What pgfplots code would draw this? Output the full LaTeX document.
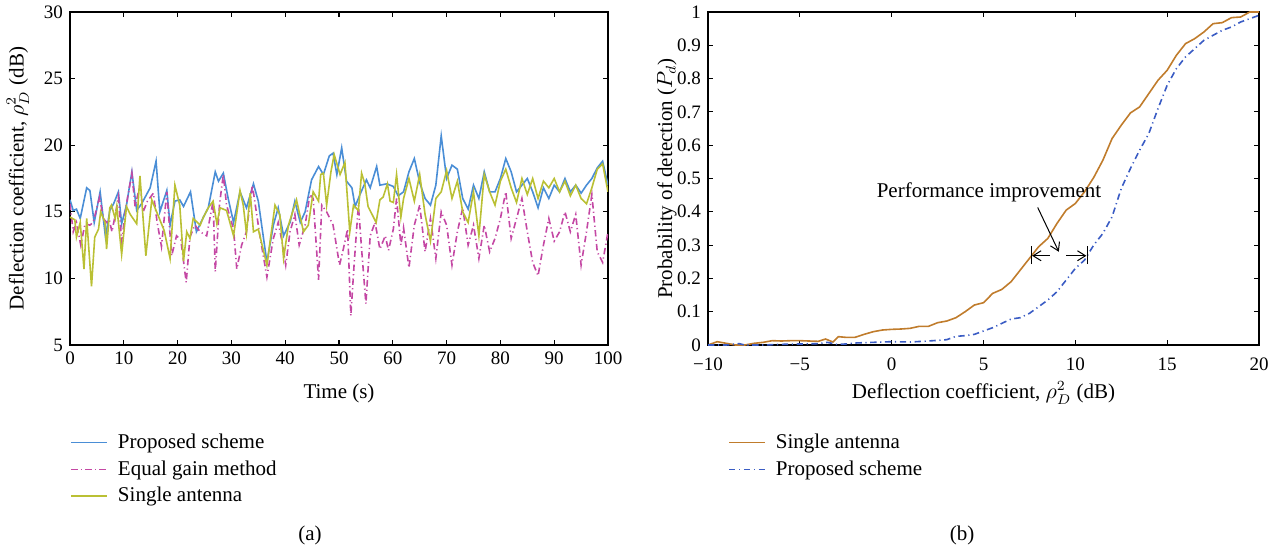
\documentclass[border=0pt]{standalone}
\usepackage{pgfplots}
\pgfplotsset{compat=1.18}
\usepackage{fontspec}
\setmainfont{Liberation Serif}
\usetikzlibrary{arrows.meta}
\definecolor{cProp}{RGB}{74,142,214}
\definecolor{cEqual}{RGB}{196,72,164}
\definecolor{cSingle}{RGB}{186,192,52}
\definecolor{cSingleB}{RGB}{192,124,44}
\definecolor{cPropB}{RGB}{58,92,196}
\begin{document}
\begin{tikzpicture}
\path[use as bounding box] (0,0) rectangle (644pt,276pt);
\pgfplotsset{
  every axis/.append style={
    scale only axis, anchor=south west,
    tick align=inside, major tick length=2.5pt,
    axis line style={line width=0.9pt},
    every tick/.style={black, line width=0.6pt},
    label style={font=\fontsize{10.5}{12.5}\selectfont},
    tick label style={font=\fontsize{9.5}{11}\selectfont},
    /pgf/number format/assume math mode=true,
    legend cell align=left,
    legend image code/.code={\draw[#1] (0pt,0pt) -- (18pt,0pt); \path (21.5pt,0pt);},
    legend style={draw=none, fill=none, anchor=north west, inner sep=0pt,
      font=\fontsize{10.5}{12.5}\selectfont, row sep=1.6pt,
      nodes={inner sep=1.5pt}},
  }
}
\begin{axis}[
  at={(35pt,103.5pt)}, width=269pt, height=166.5pt,
  xmin=0, xmax=100, ymin=5, ymax=30,
  xtick={0,10,...,100}, ytick={5,10,...,30},
  xlabel={Time (s)},
  ylabel={Deflection coefficient, $\rho_D^2$ (dB)},
  xlabel style={at={(axis description cs:0.5,-0.144)}, anchor=center},
  ylabel style={at={(axis description cs:-0.097,0.5)}, anchor=center},
  legend style={at={(axis description cs:0.0,-0.2565)}},
]
\addplot[cProp, line width=0.8pt] coordinates {
(0,15.9)(0.6,15.1)(1.2,15.2)(1.9,14.5)(3.1,16.8)(3.7,16.6)(4.5,14.2)(5.6,16.5)(6.6,13.1)(7.4,15.1)(8.1,15.6)(9.0,16.5)(9.6,14.1)(10.5,15.5)(11.5,18.0)(12.4,15.1)(13.3,15.6)(14.9,16.8)(16.0,18.8)(16.7,15.0)(18.0,16.6)(18.6,14.0)(19.5,15.8)(20.4,15.9)(21.1,15.4)(22.4,16.5)(23.5,13.5)(24.8,14.6)(25.7,15.3)(27.0,18.0)(27.6,17.3)(28.5,17.9)(29.4,16.0)(30.4,14.2)(31.6,16.5)(32.8,15.3)(34.1,17.1)(35.0,15.8)(36.6,11.2)(37.8,14.0)(38.7,15.3)(39.7,13.2)(40.9,14.2)(41.8,15.8)(42.8,14.2)(43.7,15.0)(44.9,17.4)(46.2,18.4)(47.1,17.8)(48.2,19.2)(48.9,19.4)(49.6,17.8)(50.5,19.8)(51.4,17.3)(52.4,16.8)(53.0,15.4)(53.9,16.3)(55.1,17.4)(55.8,16.8)(57.0,18.4)(57.6,17.0)(58.9,17.1)(60.1,16.9)
(61,16.2)(62,16.5)(63,18.0)(64,19.0)(65,17.2)(66,16.0)(67,15.5)(68,17.0)(69,20.7)(70,17.5)(71,18.5)(72,18.2)(73,16.0)(74,15.2)(75,17.0)(76,16.0)(77,18.0)(78,16.5)(79,16.5)(80,17.5)(81,19.0)(82,18.0)(83,16.5)(84,17.0)(85,17.5)(86,16.5)(87,15.3)(88,16.8)(89,16.0)(90,17.0)(91,16.5)(92,17.5)(93,16.5)(94,17.0)(95,16.4)(96,17.0)(97,17.5)(98,18.3)(99,18.8)(100,17.0)
};
\addlegendentry{Proposed scheme}
\addplot[cEqual, line width=0.8pt, dash pattern=on 3.2pt off 1.6pt on 0.6pt off 1.6pt] coordinates {
(0,15.6)(0.6,13.5)(1.2,14.2)(2.0,12.5)(2.8,14.1)(3.7,14.0)(4.3,14.2)(5.5,16.1)(6.2,14.5)(6.8,14.2)(7.3,14.4)(7.8,13.5)(8.7,15.4)(9.0,16.1)(9.6,12.8)(10.5,15.6)(11.5,17.9)(12.1,15.4)(13.0,17.0)(13.6,15.0)(14.4,15.8)(15.5,16.4)(16.2,14.2)(17.0,12.4)(18.0,16.5)(18.9,11.7)(19.8,13.2)(20.6,12.9)(21.6,9.7)(22.3,13.1)(23.2,14.0)(24.2,13.5)(25.4,13.2)(26.6,15.8)(27.0,10.5)(27.8,15.6)(28.5,17.8)(29.1,15.5)(30.4,13.7)(31.0,10.7)(31.9,12.5)(32.8,13.5)(33.9,17.0)(34.7,14.8)(35.3,13.2)(36.6,10.1)(37.8,13.0)(38.7,14.2)(39.3,13.0)(40.1,11.0)(40.9,13.5)(41.8,14.8)(42.6,12.5)(43.7,14.0)(44.6,16.3)(45.2,16.0)(46.2,9.9)(46.8,15.5)(47.7,15.0)(48.3,14.5)(48.9,14.0)(50.1,11.0)(50.8,12.2)(51.6,13.7)(52.2,7.2)(52.8,11.0)(53.6,15.5)(54.2,12.2)(55.0,8.1)(55.8,13.2)(56.7,14.2)(57.6,12.2)(58.6,13.2)(59.2,12.1)(60.1,13.7)(60.7,16.0)
(61.5,12.5)(62,13.8)(63,10.8)(64,14.0)(65,15.5)(66,12.0)(67,14.5)(68,11.5)(69,15.0)(70,14.0)(71,11.0)(72,13.5)(73,15.3)(74,12.5)(75,14.0)(76,11.5)(77,14.0)(78,12.0)(79,13.0)(80,14.5)(81,16.5)(82,13.0)(83,14.5)(84,16.0)(85,13.5)(86,11.2)(87,10.2)(88,12.5)(89,14.5)(90,12.8)(91,13.5)(92,15.0)(93,13.5)(94,14.8)(95,11.0)(96,13.5)(97,16.3)(98,12.0)(99,11.2)(100,13.5)
};
\addlegendentry{Equal gain method}
\addplot[cSingle, line width=0.8pt] coordinates {
(0,14.6)(0.9,14.4)(1.2,13.1)(1.9,14.2)(2.6,10.7)(3.1,14.5)(4.0,9.4)(4.6,13.1)(5.3,13.7)(5.7,15.0)(6.5,14.2)(6.8,12.2)(7.4,15.3)(7.7,15.5)(8.4,14.5)(8.7,15.4)(9.6,11.8)(10.5,15.4)(11.2,14.8)(12.4,14.1)(13.0,17.7)(14.1,11.7)(15.2,15.9)(16.1,15.0)(17.5,13.6)(18.6,11.5)(19.5,17.0)(20.4,15.5)(21.1,11.3)(21.7,13.5)(22.3,13.0)(22.9,14.5)(24.2,14.0)(24.8,14.6)(25.7,15.3)(26.6,15.8)(27.3,14.1)(27.9,15.3)(29.1,15.1)(30.4,13.2)(31.6,16.6)(32.2,15.5)(32.8,13.4)(33.5,16.4)(34.1,13.5)(35.0,13.7)(36.6,11.0)(38.1,15.5)(39.0,14.8)(39.7,11.5)(40.6,14.0)(42.1,15.9)(43.4,13.5)(44.3,14.0)(45.2,16.5)(46.2,15.8)(46.6,17.8)(47.1,17.9)(47.7,15.5)(48.5,18.0)(49.1,19.3)(50.2,17.8)(51.1,18.7)(52.0,13.5)(52.7,15.5)(53.6,15.1)(54.2,17.9)(54.8,17.1)(55.4,15.4)(56.9,14.2)(57.6,15.9)(58.2,16.1)(59.0,17.1)(59.5,15.8)(60.1,15.7)(60.7,17.8)
(61.5,14.6)(62,16.0)(63,17.5)(64,15.8)(65,17.8)(66,14.8)(67,12.8)(68,16.0)(69,16.5)(70,18.1)(71,16.0)(72,17.3)(73,15.0)(74,14.2)(75,16.5)(76,13.2)(77,17.8)(78,16.5)(79,15.5)(80,17.3)(81,18.2)(82,16.8)(83,15.7)(84,17.5)(85,16.3)(86,17.5)(87,16.0)(88,17.3)(89,16.8)(90,17.5)(91,16.5)(92,17.3)(93,16.2)(94,17.0)(95,16.0)(96,15.6)(97,16.8)(98,18.2)(99,18.6)(100,16.5)
};
\addlegendentry{Single antenna}
\end{axis}

\begin{axis}[
  at={(354pt,103.5pt)}, width=275.5pt, height=166.5pt,
  xmin=-10, xmax=20, ymin=0, ymax=1,
  xtick={-10,-5,...,20}, xticklabels={−10,−5,0,5,10,15,20},
  xticklabel style={yshift=-3pt},
  ytick={0,0.1,...,1.0},
  yticklabels={0,0.1,0.2,0.3,0.4,0.5,0.6,0.7,0.8,0.9,1},
  xlabel={Deflection coefficient, $\rho_D^2$ (dB)},
  ylabel={Probability of detection ($P_d$)},
  xlabel style={at={(axis description cs:0.5,-0.144)}, anchor=center},
  ylabel style={at={(axis description cs:-0.0744,0.5)}, anchor=center},
  legend style={at={(axis description cs:0.036,-0.2565)}},
]
\addplot[cSingleB, line width=0.8pt] coordinates {
(-10,0.0)(-9.5,0.01)(-9,0.005)(-8.5,0.0)(-8,0.0)(-7.5,0.005)(-7,0.008)(-6.5,0.013)(-6,0.012)(-5.5,0.013)(-5,0.013)(-4.5,0.012)(-4,0.011)(-3.6,0.018)(-3.2,0.009)(-2.9,0.025)(-2.5,0.023)(-2,0.023)(-1.5,0.032)(-1,0.04)(-0.5,0.045)(0,0.047)(0.5,0.048)(1,0.05)(1.5,0.056)(2,0.056)(2.5,0.067)(3,0.072)(3.5,0.082)(4,0.1)(4.5,0.12)(5,0.127)(5.5,0.155)(6,0.167)(6.5,0.19)(7,0.225)(7.5,0.26)(8,0.295)(8.5,0.32)(9,0.365)(9.5,0.405)(10,0.425)(10.5,0.46)(11,0.503)(11.5,0.555)(12,0.62)(12.5,0.66)(13,0.697)(13.5,0.715)(14,0.755)(14.5,0.795)(15,0.825)(15.5,0.87)(16,0.905)(16.5,0.92)(17,0.94)(17.5,0.965)(18,0.968)(18.5,0.983)(19,0.985)(19.5,1.0)(20,1.0)
};
\addlegendentry{Single antenna}
\addplot[cPropB, line width=0.8pt, dash pattern=on 3.2pt off 1.8pt on 0.6pt off 1.8pt] coordinates {
(-10,0.0)(-9,0.0)(-8.3,0.004)(-8,0.0)(-7,0.0)(-6,0.002)(-5,0.003)(-4,0.004)(-3.5,0.008)(-3,0.002)(-2.5,0.003)(-2,0.006)(-1,0.008)(0,0.01)(1,0.009)(2,0.012)(3,0.016)(3.5,0.026)(4,0.028)(4.5,0.032)(5,0.042)(5.5,0.052)(6,0.065)(6.5,0.078)(7,0.082)(7.5,0.095)(8,0.115)(8.5,0.135)(9,0.16)(9.5,0.195)(10,0.23)(10.5,0.255)(11,0.3)(11.5,0.335)(12,0.385)(12.5,0.47)(13,0.53)(13.5,0.585)(14,0.635)(14.5,0.71)(15,0.78)(15.5,0.83)(16,0.865)(16.5,0.89)(17,0.915)(17.5,0.93)(18,0.945)(18.5,0.955)(19,0.97)(19.5,0.98)(20,0.99)
};
\addlegendentry{Proposed scheme}
\node[font=\fontsize{10.5}{12.5}\selectfont] at (axis cs:5.3,0.458) {Performance improvement};
\draw[line width=0.5pt, -{Straight Barb[length=4pt,width=5pt]}] (axis cs:7.95,0.413) -- (axis cs:9.1,0.28);
\draw[line width=0.5pt, -{Straight Barb[length=4pt,width=5pt]}] (axis cs:8.6,0.268) -- (axis cs:7.65,0.268);
\draw[line width=0.5pt] (axis cs:7.6,0.243) -- (axis cs:7.6,0.296);
\draw[line width=0.5pt, -{Straight Barb[length=4pt,width=5pt]}] (axis cs:9.5,0.268) -- (axis cs:10.6,0.268);
\draw[line width=0.5pt] (axis cs:10.65,0.243) -- (axis cs:10.65,0.296);
\end{axis}
\node[font=\fontsize{10.5}{12.5}\selectfont] at (155pt,8.5pt) {(a)};
\node[font=\fontsize{10.5}{12.5}\selectfont] at (481pt,8.5pt) {(b)};
\end{tikzpicture}
\end{document}
